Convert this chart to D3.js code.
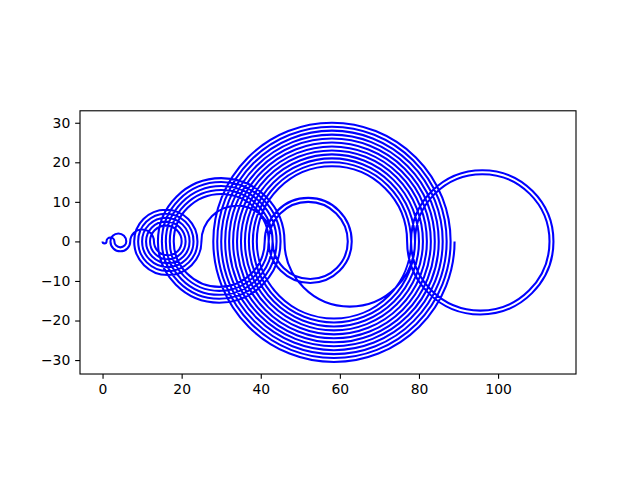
<!DOCTYPE html>
<html>
<head>
<meta charset="utf-8">
<script src="https://cdn.jsdelivr.net/npm/d3@7"></script>
<style>
  html, body { margin: 0; padding: 0; background: #fff; }
  svg { display: block; }
  text { font-family: "DejaVu Sans", sans-serif; }
</style>
</head>
<body>
<svg id="chart" width="640" height="480"></svg>
<script>
// Recamán sequence values (semicircle endpoints on y = 0)
const seqValues = [0, 1, 3, 6, 2, 7, 13, 20, 12, 21, 11, 22, 10, 23, 9, 24, 8, 25,
  43, 62, 42, 63, 41, 18, 42, 17, 43, 16, 44, 15, 45, 14, 46, 79, 113, 78, 114, 77,
  39, 78, 38, 79, 37, 80, 36, 81, 35, 82, 34, 83, 33, 84, 32, 85, 31, 86, 30, 87,
  29, 88, 28, 89];
const xTicks = [0, 20, 40, 60, 80, 100];
const yTicks = [-30, -20, -10, 0, 10, 20, 30];
const xDomain = [-5.7, 119.7];
const yDomain = [-33.525, 33.025];

const W = 640, H = 480;
const figLeft = 0.125 * W, figRight = 0.9 * W;
const figTop = (1 - 0.88) * H, figBottom = (1 - 0.11) * H;
const pxPerUnit = (figRight - figLeft) / (xDomain[1] - xDomain[0]);
const axH = (yDomain[1] - yDomain[0]) * pxPerUnit;
const yMid = (figTop + figBottom) / 2;
const axTop = yMid - axH / 2, axBottom = yMid + axH / 2;

const x = d3.scaleLinear().domain(xDomain).range([figLeft, figRight]);
const y = d3.scaleLinear().domain(yDomain).range([axBottom, axTop]);

const svg = d3.select("#chart");
svg.append("rect").attr("width", W).attr("height", H).attr("fill", "#fff");

// semicircles
let d = "";
for (let i = 0; i < seqValues.length - 1; i++) {
  const x0 = seqValues[i], x1 = seqValues[i + 1];
  const above = (i % 2 === 1);
  const r = Math.abs(x(x1) - x(x0)) / 2;
  const sweep = (above === (x0 < x1)) ? 1 : 0;
  if (i === 0) d += `M${x(x0)},${y(0)}`;
  d += `A${r},${r} 0 0 ${sweep} ${x(x1)},${y(0)}`;
}
svg.append("path")
  .attr("d", d)
  .attr("fill", "none")
  .attr("stroke", "#0000ff")
  .attr("stroke-width", 2.08)
  .attr("stroke-linejoin", "round")
  .attr("stroke-linecap", "butt");

const fmt = d3.format("");
const xAxis = d3.axisBottom(x).tickValues(xTicks).tickSize(4.86).tickPadding(4.86).tickFormat(d3.format("d"));
const yAxis = d3.axisLeft(y).tickValues(yTicks).tickSize(4.86).tickPadding(4.86).tickFormat(d3.format("d"));

const gx = svg.append("g").attr("transform", `translate(0,${axBottom})`).call(xAxis);
const gy = svg.append("g").attr("transform", `translate(${figLeft},0)`).call(yAxis);
[gx, gy].forEach(g => {
  g.select(".domain").remove();
  g.selectAll(".tick line").attr("stroke", "#000").attr("stroke-width", 1.11);
  g.selectAll(".tick text").attr("fill", "#000").style("font-size", "13.9px").style("font-family", "'DejaVu Sans', sans-serif");
});

// axes frame
svg.append("rect")
  .attr("x", figLeft).attr("y", axTop)
  .attr("width", figRight - figLeft).attr("height", axH)
  .attr("fill", "none").attr("stroke", "#000").attr("stroke-width", 1.11);
</script>
</body>
</html>
